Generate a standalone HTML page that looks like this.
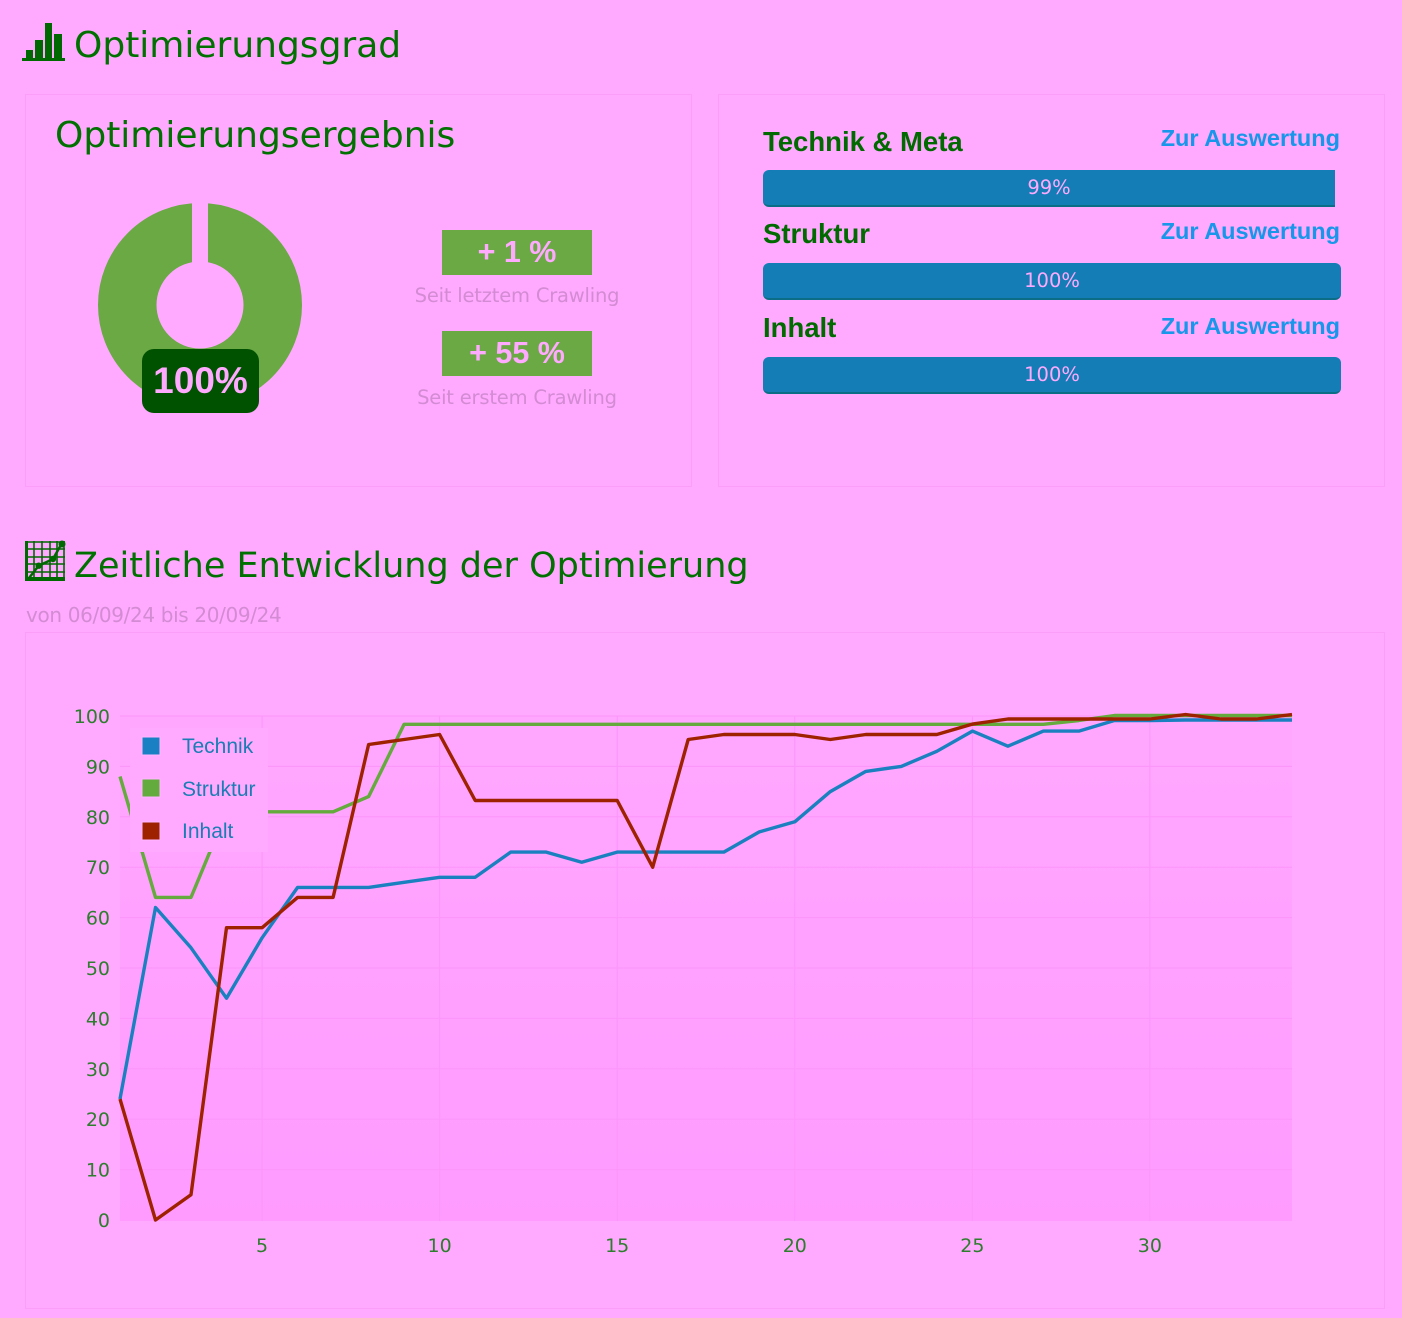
<!DOCTYPE html>
<html><head><meta charset="utf-8">
<style>
html,body{margin:0;padding:0;}
body{width:1402px;height:1318px;background:#ffaaff;position:relative;overflow:hidden;font-family:"DejaVu Sans",sans-serif;}
.abs{position:absolute;white-space:nowrap;}
.card{position:absolute;border:1px solid #fa9ef9;box-sizing:border-box;}
.t35{font-size:35px;line-height:35px;color:#007000;}
.t36{font-size:36px;line-height:36px;color:#007000;}
.stat{position:absolute;width:150px;height:45px;background:#6aa944;display:flex;align-items:center;justify-content:center;font-family:"Liberation Sans",sans-serif;font-weight:bold;font-size:30.5px;color:#ffaaff;}
.cap{position:absolute;left:317px;width:400px;text-align:center;font-size:19.5px;line-height:19.5px;letter-spacing:-0.2px;color:#d38bd3;}
.lbl{position:absolute;left:763px;font-family:"Liberation Sans",sans-serif;font-weight:bold;font-size:27.5px;line-height:27.5px;color:#006a00;}
.lnk{position:absolute;right:62px;font-family:"Liberation Sans",sans-serif;font-weight:bold;font-size:23.5px;line-height:23.5px;color:#1796ea;}
.bar{position:absolute;left:763px;height:37px;background:#147db6;border-bottom:2px solid #0b6e86;box-sizing:border-box;border-radius:6px;display:flex;align-items:center;justify-content:center;font-size:19.5px;color:#ffaaff;}
</style></head><body>

<!-- header icon -->
<svg class="abs" style="left:0;top:0" width="80" height="80">
<rect x="22" y="58" width="43" height="3" fill="#006800"/>
<rect x="26" y="50" width="7" height="9" fill="#006800"/>
<rect x="35" y="40" width="8" height="19" fill="#006800"/>
<rect x="45" y="23" width="7" height="36" fill="#006800"/>
<rect x="54" y="34" width="8" height="25" fill="#006800"/>
</svg>
<div class="abs t36" style="left:74px;top:28px;">Optimierungsgrad</div>

<!-- card 1 -->
<div class="card" style="left:25px;top:94px;width:667px;height:393px;"></div>
<div class="abs t36" style="left:55px;top:118px;">Optimierungsergebnis</div>
<svg class="abs" style="left:0;top:0" width="400" height="480">
<circle cx="200" cy="305" r="72.75" fill="none" stroke="#6aa944" stroke-width="58.5"/>
<rect x="192" y="198" width="16" height="70" fill="#ffaaff"/>
</svg>
<div class="abs" style="left:142px;top:349px;width:117px;height:64px;background:#005200;border-radius:12px;display:flex;align-items:center;justify-content:center;font-family:'Liberation Sans',sans-serif;font-weight:bold;font-size:37px;color:#ffaaff;">100%</div>

<div class="stat" style="left:442px;top:230px;">+ 1 %</div>
<div class="cap" style="top:285.5px;">Seit letztem Crawling</div>
<div class="stat" style="left:442px;top:331px;">+ 55 %</div>
<div class="cap" style="top:387.5px;">Seit erstem Crawling</div>

<!-- card 2 -->
<div class="card" style="left:718px;top:94px;width:667px;height:393px;"></div>
<div class="lbl" style="top:128px;">Technik &amp; Meta</div>
<div class="lnk" style="top:127px;">Zur Auswertung</div>
<div class="bar" style="top:170px;width:572px;border-radius:6px 0 0 6px;">99%</div>
<div class="lbl" style="top:220px;">Struktur</div>
<div class="lnk" style="top:220px;">Zur Auswertung</div>
<div class="bar" style="top:263px;width:578px;">100%</div>
<div class="lbl" style="top:314px;">Inhalt</div>
<div class="lnk" style="top:315px;">Zur Auswertung</div>
<div class="bar" style="top:357px;width:578px;">100%</div>

<!-- section 2 -->
<svg class="abs" style="left:0;top:0" width="80" height="600">
<g stroke="#006800" stroke-width="1.6" fill="none">
<line x1="34" y1="541" x2="34" y2="580"/><line x1="42" y1="541" x2="42" y2="580"/>
<line x1="50" y1="541" x2="50" y2="580"/><line x1="57" y1="541" x2="57" y2="580"/>
<line x1="64" y1="541" x2="64" y2="580"/>
<line x1="26" y1="542" x2="65" y2="542"/><line x1="26" y1="549" x2="65" y2="549"/>
<line x1="26" y1="557" x2="65" y2="557"/><line x1="26" y1="564" x2="65" y2="564"/>
<line x1="26" y1="572" x2="65" y2="572"/>
</g>
<rect x="25" y="541" width="3" height="40" fill="#006800"/>
<rect x="25" y="577" width="40" height="4" fill="#006800"/>
<polyline points="29,578 38.7,565.7 53,559 61.3,544.3" fill="none" stroke="#006800" stroke-width="2.5"/>
<circle cx="38.7" cy="565.7" r="3.2" fill="#006800"/>
<circle cx="53" cy="559" r="3.2" fill="#006800"/>
<circle cx="62" cy="544" r="3.5" fill="#006800"/>
</svg>
<div class="abs t35" style="left:74px;top:549.4px;">Zeitliche Entwicklung der Optimierung</div>
<div class="abs" style="left:26px;top:605px;font-size:20px;line-height:20px;letter-spacing:-0.35px;color:#d38bd3;">von 06/09/24 bis 20/09/24</div>

<div class="card" style="left:25px;top:632px;width:1360px;height:677px;"></div>

<svg class="abs" style="left:0;top:0" width="1402" height="1318">
<defs>
<linearGradient id="pg" x1="0" y1="0" x2="0" y2="1">
<stop offset="0" stop-color="#ffa7ff"/>
<stop offset="1" stop-color="#ff9bff"/>
</linearGradient>
</defs>
<rect x="120" y="716" width="1172" height="505" fill="url(#pg)"/>
<g stroke="#fb95fa" stroke-width="1">
<line x1="120" y1="716" x2="1292" y2="716"/>
<line x1="120" y1="766.4" x2="1292" y2="766.4"/>
<line x1="120" y1="816.8" x2="1292" y2="816.8"/>
<line x1="120" y1="867.2" x2="1292" y2="867.2"/>
<line x1="120" y1="917.6" x2="1292" y2="917.6"/>
<line x1="120" y1="968" x2="1292" y2="968"/>
<line x1="120" y1="1018.4" x2="1292" y2="1018.4"/>
<line x1="120" y1="1068.8" x2="1292" y2="1068.8"/>
<line x1="120" y1="1119.2" x2="1292" y2="1119.2"/>
<line x1="120" y1="1169.6" x2="1292" y2="1169.6"/>
<line x1="262.1" y1="716" x2="262.1" y2="1221"/>
<line x1="439.6" y1="716" x2="439.6" y2="1221"/>
<line x1="617.2" y1="716" x2="617.2" y2="1221"/>
<line x1="794.8" y1="716" x2="794.8" y2="1221"/>
<line x1="972.4" y1="716" x2="972.4" y2="1221"/>
<line x1="1149.9" y1="716" x2="1149.9" y2="1221"/>
</g>
<g font-family="DejaVu Sans, sans-serif" font-size="19" fill="#2e7d2e" text-anchor="end">
<text x="110" y="723">100</text>
<text x="110" y="773.4">90</text>
<text x="110" y="823.8">80</text>
<text x="110" y="874.2">70</text>
<text x="110" y="924.6">60</text>
<text x="110" y="975">50</text>
<text x="110" y="1025.4">40</text>
<text x="110" y="1075.8">30</text>
<text x="110" y="1126.2">20</text>
<text x="110" y="1176.6">10</text>
<text x="110" y="1227">0</text>
</g>
<g font-family="DejaVu Sans, sans-serif" font-size="19" fill="#2e7d2e" text-anchor="middle">
<text x="262.1" y="1252">5</text>
<text x="439.6" y="1252">10</text>
<text x="617.2" y="1252">15</text>
<text x="794.8" y="1252">20</text>
<text x="972.4" y="1252">25</text>
<text x="1149.9" y="1252">30</text>
</g>
<g fill="none" stroke-width="3.4" stroke-linejoin="round">
<polyline stroke="#1a80bf" points="120,1099 155.5,907.5 191,947.8 226.5,998.2 262.1,937.8 297.6,887.4 333.1,887.4 368.6,887.4 404.1,882.3 439.6,877.3 475.2,877.3 510.7,852.1 546.2,852.1 581.7,862.2 617.2,852.1 652.7,852.1 688.2,852.1 723.8,852.1 759.3,831.9 794.8,821.8 830.3,791.6 865.8,771.4 901.3,766.4 936.8,751.3 972.4,731.1 1007.9,746.2 1043.4,731.1 1078.9,731.1 1114.4,720.5 1149.9,720.5 1185.5,720 1221,720 1256.5,720 1292,720"/>
<polyline stroke="#64aa3c" points="120,776.5 155.5,897.4 191,897.4 226.5,811.8 262.1,811.8 297.6,811.8 333.1,811.8 368.6,796.6 404.1,724.3 1043.4,724.3 1078.9,720.5 1114.4,715.5 1292,715.5"/>
<polyline stroke="#9e2100" points="120,1099 155.5,1220 191,1194.8 226.5,927.7 262.1,927.7 297.6,897.4 333.1,897.4 368.6,744.5 404.1,739.5 439.6,734.5 475.2,800.5 617.2,800.5 652.7,867.2 688.2,739.5 723.8,734.5 794.8,734.5 830.3,739.5 865.8,734.5 936.8,734.5 972.4,724.1 1007.9,719 1149.9,719 1185.5,714.5 1221,719 1256.5,719 1292,714.5"/>
</g>
<rect x="130" y="728" width="138" height="124" fill="#ffaaff"/>
<rect x="142" y="737" width="18" height="18" fill="#1a80c4" stroke="#ffb6ff" stroke-width="1"/>
<rect x="142" y="779" width="18" height="18" fill="#62ab3c" stroke="#ffb6ff" stroke-width="1"/>
<rect x="142" y="822" width="18" height="18" fill="#9e2100" stroke="#ffb6ff" stroke-width="1"/>
<g font-family="Liberation Sans, sans-serif" font-size="21" fill="#1b7db5">
<text x="182" y="753">Technik</text>
<text x="182" y="796">Struktur</text>
<text x="182" y="838">Inhalt</text>
</g>
</svg>
</body></html>
